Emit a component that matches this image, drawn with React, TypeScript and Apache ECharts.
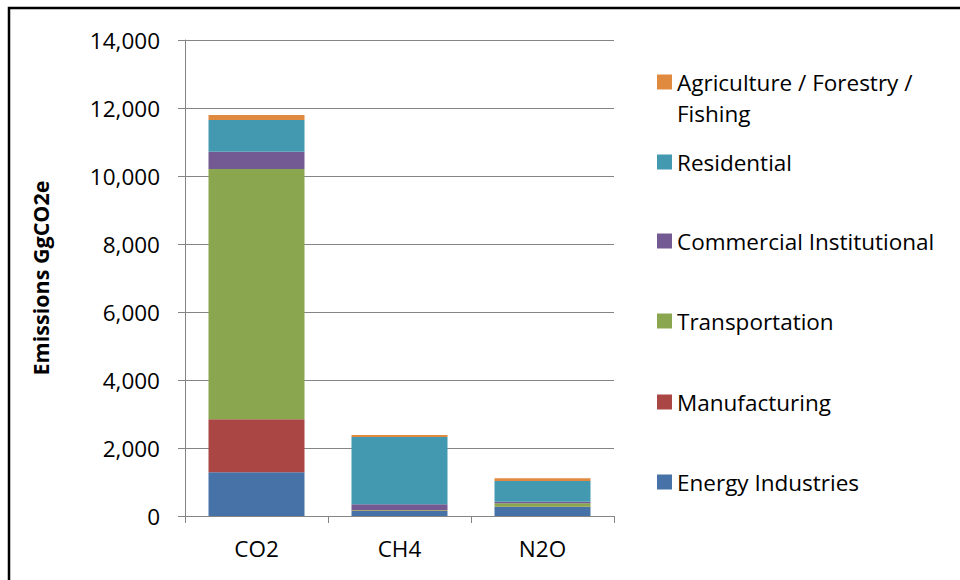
import React, { useEffect, useRef } from "react";
import * as echarts from "echarts";

const categories = ["CO2", "CH4", "N2O"];
const energyIndustries = [1285, 150, 265];
const manufacturing = [1560, 15, 10];
const transportation = [7360, 15, 100];
const commercialInstitutional = [510, 165, 45];
const residential = [930, 1980, 610];
const agriculture = [150, 55, 80];
const yTicks = [0, 2000, 4000, 6000, 8000, 10000, 12000, 14000];

const FONT = "Open Sans";
const FS = 22.5;

export default function App() {
  const ref = useRef<HTMLDivElement>(null);
  useEffect(() => {
    if (!ref.current) return;
    const chart = echarts.init(ref.current, null, { renderer: "svg" });
    const seriesDefs = [
      { name: "Energy Industries", data: energyIndustries, color: "#4672A8", y: 482 },
      { name: "Manufacturing", data: manufacturing, color: "#AA4644", y: 402 },
      { name: "Transportation", data: transportation, color: "#8AA64F", y: 321 },
      { name: "Commercial Institutional", data: commercialInstitutional, color: "#735A92", y: 241 },
      { name: "Residential", data: residential, color: "#4399B0", y: 162 },
      { name: "Agriculture / Forestry / Fishing", data: agriculture, color: "#E08A40", y: 82 },
    ];
    const legends = seriesDefs.map((s) => {
      const isAgri = s.name.startsWith("Agriculture");
      return {
        data: [s.name],
        left: 657,
        top: isAgri ? s.y - 46.5 : s.y - 13,
        padding: 0,
        orient: "vertical",
        icon: "rect",
        itemWidth: 15,
        itemHeight: 15,
        selectedMode: false,
        formatter: isAgri ? () => "\nAgriculture / Forestry /\nFishing" : undefined,
        textStyle: {
          fontFamily: FONT,
          fontSize: FS,
          color: "#000",
          lineHeight: isAgri ? 31 : 26,
        },
      };
    });
    chart.setOption({
      animation: false,
      textStyle: { fontFamily: FONT },
      grid: { left: 185, right: 346, top: 40, bottom: 64 },
      legend: legends,
      graphic: [
        {
          type: "rect",
          shape: { x: 9, y: 8, width: 1000, height: 620 },
          style: { fill: "none", stroke: "#000", lineWidth: 2.5 },
          silent: true,
        },
      ],
      xAxis: {
        type: "category",
        data: categories,
        axisLine: { lineStyle: { color: "#858585", width: 1 } },
        axisTick: { show: true, length: 7, lineStyle: { color: "#858585" } },
        axisLabel: { fontFamily: FONT, fontSize: FS, color: "#000", margin: 21 },
      },
      yAxis: {
        type: "value",
        min: yTicks[0],
        max: yTicks[yTicks.length - 1],
        interval: 2000,
        name: "Emissions GgCO2e",
        nameLocation: "middle",
        nameRotate: 90,
        nameGap: 134,
        nameTextStyle: { fontFamily: FONT, fontSize: 21.5, fontWeight: "bold", color: "#000" },
        axisLine: { show: true, lineStyle: { color: "#858585", width: 1 } },
        axisTick: { show: true, length: 7, lineStyle: { color: "#858585" } },
        splitLine: { lineStyle: { color: "#858585", width: 1 } },
        axisLabel: {
          fontFamily: FONT,
          fontSize: FS,
          color: "#000",
          margin: 25,
          formatter: (v: number) => v.toLocaleString("en-US"),
        },
      },
      series: seriesDefs.map((s) => ({
        name: s.name,
        type: "bar",
        stack: "total",
        barWidth: 96,
        data: s.data,
        itemStyle: { color: s.color },
      })),
    });
    return () => chart.dispose();
  }, []);
  return (
    <div
      ref={ref}
      style={{ position: "fixed", left: 0, top: 0, width: 960, height: 580, background: "#fff" }}
    />
  );
}
